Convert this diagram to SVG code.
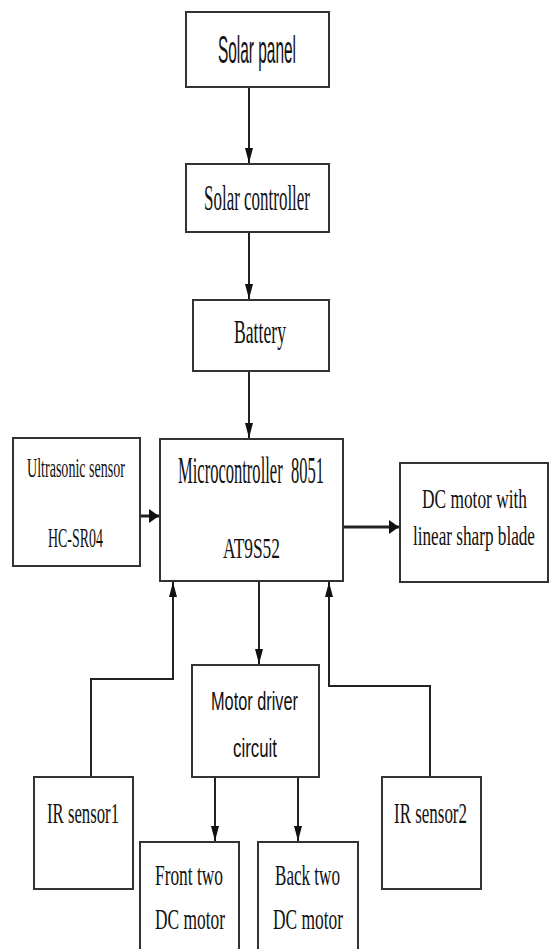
<svg xmlns="http://www.w3.org/2000/svg" width="549" height="949" viewBox="0 0 549 949">
<style>
.box{fill:#fff;stroke:#333;stroke-width:2}
.ln{fill:none;stroke:#222;stroke-width:2}
.lh{fill:none;stroke:#222;stroke-width:3}
.t{font-family:"Liberation Serif","Times New Roman",serif;fill:#111}
.s{font-family:"Liberation Sans",Arial,sans-serif;fill:#111}
</style>
<defs>
<marker id="ahV" viewBox="0 0 15 8" refX="15" refY="4" markerWidth="15" markerHeight="8" markerUnits="userSpaceOnUse" orient="auto">
<path d="M0,0 L15,4 L0,8 z" fill="#111"/>
</marker>
<marker id="ahH" viewBox="0 0 10 14" refX="10" refY="7" markerWidth="10" markerHeight="14" markerUnits="userSpaceOnUse" orient="auto">
<path d="M0,0 L10,7 L0,14 z" fill="#111"/>
</marker>
</defs>
<rect width="549" height="949" fill="#fff"/>
<g id="connectors">
<line class="ln" x1="249" y1="87" x2="249" y2="163" marker-end="url(#ahV)"/>
<line class="ln" x1="249" y1="232" x2="249" y2="299" marker-end="url(#ahV)"/>
<line class="ln" x1="249" y1="371" x2="249" y2="438" marker-end="url(#ahV)"/>
<line class="lh" x1="140" y1="516" x2="159" y2="516" marker-end="url(#ahH)"/>
<line class="lh" x1="343" y1="527" x2="399" y2="527" marker-end="url(#ahH)"/>
<line class="ln" x1="259" y1="581" x2="259" y2="664" marker-end="url(#ahV)"/>
<polyline class="ln" points="91,777 91,679 173,679 173,582" marker-end="url(#ahV)"/>
<polyline class="ln" points="430,777 430,686 329,686 329,582" marker-end="url(#ahV)"/>
<line class="ln" x1="215" y1="777" x2="215" y2="841" marker-end="url(#ahV)"/>
<line class="ln" x1="298" y1="777" x2="298" y2="841" marker-end="url(#ahV)"/>
</g>
<g id="solar-panel">
<rect class="box" x="186" y="12" width="143" height="75"/>
<text class="s" transform="translate(218,63) scale(1,2.4)" font-size="15.8" textLength="78" lengthAdjust="spacingAndGlyphs">Solar panel</text>
</g>
<g id="solar-controller">
<rect class="box" x="186" y="164" width="143" height="68"/>
<text class="t" transform="translate(204,210) scale(1,1.55)" font-size="23.2" textLength="106" lengthAdjust="spacingAndGlyphs">Solar controller</text>
</g>
<g id="battery">
<rect class="box" x="193" y="300" width="136" height="71"/>
<text class="t" transform="translate(234,343) scale(1,1.55)" font-size="21.9" textLength="52" lengthAdjust="spacingAndGlyphs">Battery</text>
</g>
<g id="ultrasonic">
<rect class="box" x="13" y="438" width="127" height="128"/>
<text class="t" transform="translate(27,477) scale(1,1.55)" font-size="17.4" textLength="98" lengthAdjust="spacingAndGlyphs">Ultrasonic sensor</text>
<text class="t" transform="translate(48,547) scale(1,1.55)" font-size="18" textLength="55" lengthAdjust="spacingAndGlyphs">HC-SR04</text>
</g>
<g id="microcontroller">
<rect class="box" x="160" y="439" width="183" height="142"/>
<text class="t" transform="translate(178,483) scale(1,2)" font-size="18.5" textLength="146" lengthAdjust="spacingAndGlyphs" xml:space="preserve">Microcontroller  8051</text>
<text class="t" transform="translate(223,558) scale(1,1.55)" font-size="19.4" textLength="57" lengthAdjust="spacingAndGlyphs">AT9S52</text>
</g>
<g id="dc-motor-blade">
<rect class="box" x="400" y="463" width="148" height="119"/>
<text class="t" transform="translate(422,508) scale(1,1.55)" font-size="17.4" textLength="105" lengthAdjust="spacingAndGlyphs">DC motor with</text>
<text class="t" transform="translate(413,545) scale(1,1.55)" font-size="18" textLength="122" lengthAdjust="spacingAndGlyphs">linear sharp blade</text>
</g>
<g id="motor-driver">
<rect class="box" x="192" y="665" width="127" height="112"/>
<text class="s" transform="translate(211,710) scale(1,1.55)" font-size="16.1" textLength="87" lengthAdjust="spacingAndGlyphs">Motor driver</text>
<text class="s" transform="translate(233,757) scale(1,1.55)" font-size="16.1" textLength="44" lengthAdjust="spacingAndGlyphs">circuit</text>
</g>
<g id="ir-sensor1">
<rect class="box" x="34" y="777" width="99" height="112"/>
<text class="t" transform="translate(47,823) scale(1,1.55)" font-size="19.4" textLength="72" lengthAdjust="spacingAndGlyphs">IR sensor1</text>
</g>
<g id="ir-sensor2">
<rect class="box" x="382" y="777" width="99" height="112"/>
<text class="t" transform="translate(394,823) scale(1,1.55)" font-size="19.4" textLength="73" lengthAdjust="spacingAndGlyphs">IR sensor2</text>
</g>
<g id="front-motor">
<rect class="box" x="140" y="842" width="99" height="115"/>
<text class="t" transform="translate(155,885) scale(1,1.55)" font-size="19.4" textLength="68" lengthAdjust="spacingAndGlyphs">Front two</text>
<text class="t" transform="translate(155,929) scale(1,1.55)" font-size="19.4" textLength="70" lengthAdjust="spacingAndGlyphs">DC motor</text>
</g>
<g id="back-motor">
<rect class="box" x="258" y="842" width="100" height="115"/>
<text class="t" transform="translate(275,885) scale(1,1.55)" font-size="19.4" textLength="65" lengthAdjust="spacingAndGlyphs">Back two</text>
<text class="t" transform="translate(273,929) scale(1,1.55)" font-size="19.4" textLength="70" lengthAdjust="spacingAndGlyphs">DC motor</text>
</g>
</svg>
